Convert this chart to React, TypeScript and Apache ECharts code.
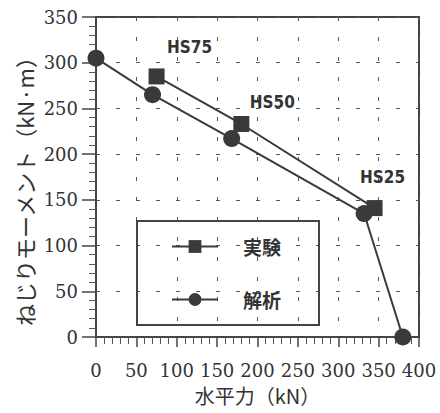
import React, { useEffect, useRef } from "react";
import * as echarts from "echarts";

const expX = [75, 180, 345];
const expY = [285, 233, 141];
const expLabels = ["HS75", "HS50", "HS25"];
const anaX = [0, 70, 168, 332, 380];
const anaY = [305, 265, 217, 135, 0];
const seriesNames = ["実験", "解析"];
const xName = "水平力（kN）";
const yName = "ねじりモーメント（kN·m）";

const labelOffsets = [
  [33, -29],
  [31, -22],
  [8, -31],
];

export default function App() {
  const ref = useRef<HTMLDivElement>(null);
  useEffect(() => {
    if (!ref.current) return;
    const chart = echarts.init(ref.current, undefined, { renderer: "svg" });
    const ink = "#3a3a3a";
    const tickFont = { fontFamily: "DejaVu Serif", fontSize: 18, color: "#333" };
    chart.setOption({
      animation: false,
      backgroundColor: "#fff",
      grid: {
        left: 96,
        right: 21,
        top: 17,
        bottom: 76,
        show: true,
        borderColor: "#444",
        borderWidth: 2,
      },
      graphic: [
        {
          type: "text",
          x: 24,
          y: 186,
          rotation: Math.PI / 2,
          style: {
            text: yName,
            font: "22px 'Noto Sans CJK JP'",
            fill: "#333",
            align: "center",
            verticalAlign: "middle",
          },
        },
      ],
      legend: {
        orient: "vertical",
        left: 137,
        top: 221,
        data: seriesNames,
        itemWidth: 46,
        itemHeight: 16,
        itemGap: 34,
        padding: [16, 38, 16, 34],
        borderColor: "#444",
        borderWidth: 2,
        textStyle: {
          fontFamily: "Noto Sans CJK JP",
          fontSize: 19,
          fontWeight: "bold",
          color: "#333",
          padding: [0, 0, 0, 20],
        },
      },
      xAxis: {
        type: "value",
        min: 0,
        max: 400,
        interval: 50,
        name: xName,
        nameLocation: "middle",
        nameGap: 48,
        nameTextStyle: { fontFamily: "Noto Sans CJK JP", fontSize: 20, color: "#333" },
        axisLine: { show: true, lineStyle: { color: "#444", width: 2 } },
        axisTick: { show: true, length: 10, lineStyle: { color: "#444", width: 1.5 } },
        minorTick: { show: true, splitNumber: 5, length: 7, lineStyle: { color: "#555", width: 1 } },
        axisLabel: { ...tickFont, margin: 24 },
        splitLine: { show: true, lineStyle: { color: "#555", type: [4, 16], width: 1 } },
      },
      yAxis: {
        type: "value",
        min: 0,
        max: 350,
        interval: 50,
        axisLine: { show: true, lineStyle: { color: "#444", width: 2 } },
        axisTick: { show: true, length: 14, lineStyle: { color: "#444", width: 1.5 } },
        minorTick: { show: true, splitNumber: 5, length: 7, lineStyle: { color: "#555", width: 1 } },
        axisLabel: { ...tickFont, margin: 18 },
        splitLine: { show: true, lineStyle: { color: "#555", type: [4, 16], width: 1 } },
      },
      series: [
        {
          name: seriesNames[0],
          type: "line",
          symbol: "rect",
          symbolSize: 16,
          lineStyle: { color: ink, width: 2 },
          itemStyle: { color: ink },
          data: expX.map((x, i) => ({
            value: [x, expY[i]],
            label: {
              show: true,
              formatter: expLabels[i],
              position: "inside",
              offset: labelOffsets[i],
              fontFamily: "DejaVu Sans Condensed",
              fontWeight: "bold",
              fontSize: 17,
              color: "#333",
            },
          })),
        },
        {
          name: seriesNames[1],
          type: "line",
          symbol: "circle",
          symbolSize: 17,
          lineStyle: { color: ink, width: 2 },
          itemStyle: { color: ink },
          data: anaX.map((x, i) => [x, anaY[i]]),
        },
      ],
    });
    return () => chart.dispose();
  }, []);
  return <div ref={ref} style={{ width: 440, height: 413, position: "absolute", left: 0, top: 0 }} />;
}
